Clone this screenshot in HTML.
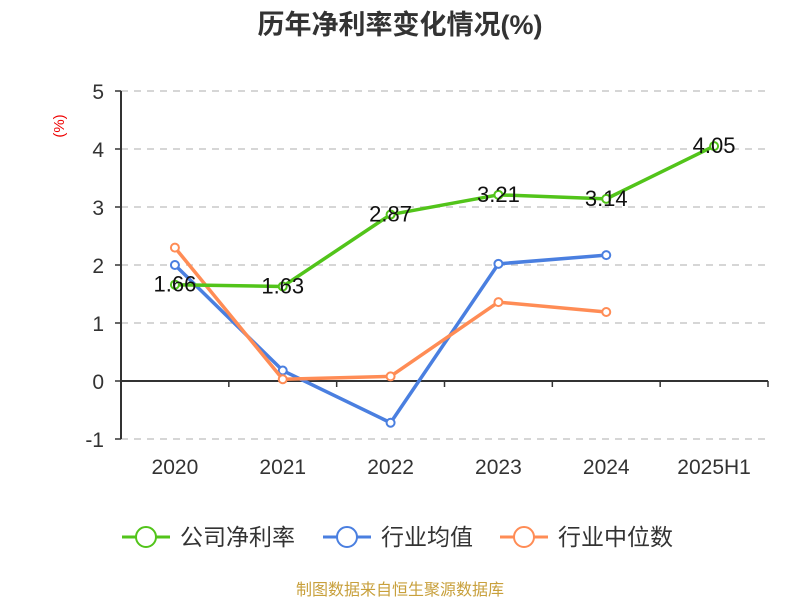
<!DOCTYPE html>
<html><head><meta charset="utf-8"><style>
body{margin:0;background:#fff;}
svg text{font-family:"Liberation Sans","Noto Sans CJK SC",sans-serif;}
</style></head><body>
<svg width="800" height="600" viewBox="0 0 800 600">
<text x="400" y="34" text-anchor="middle" font-size="27" font-weight="bold" fill="#333">历年净利率变化情况(%)</text>
<text x="64" y="126" font-size="15" fill="#e00" transform="rotate(-90 64 126)" text-anchor="middle">(%)</text>
<g id="grid"></g><g id="axes"></g><g id="series"></g>
<g font-size="23" fill="#333">
<g><line x1="122" y1="537" x2="170" y2="537" stroke="#52c41a" stroke-width="3"/><circle cx="146" cy="537" r="10" fill="#fff" stroke="#52c41a" stroke-width="2"/><text x="180" y="545">公司净利率</text></g>
<g><line x1="323" y1="537" x2="371" y2="537" stroke="#4a7fe0" stroke-width="3"/><circle cx="347" cy="537" r="10" fill="#fff" stroke="#4a7fe0" stroke-width="2"/><text x="381" y="545">行业均值</text></g>
<g><line x1="500" y1="537" x2="548" y2="537" stroke="#ff8c55" stroke-width="3"/><circle cx="524" cy="537" r="10" fill="#fff" stroke="#ff8c55" stroke-width="2"/><text x="558" y="545">行业中位数</text></g>
</g>
<text x="400" y="595" text-anchor="middle" font-size="16" fill="#c8a03c">制图数据来自恒生聚源数据库</text>
</svg>
<script>
const categories=["2020","2021","2022","2023","2024","2025H1"];
const companyValues=[1.66,1.63,2.87,3.21,3.14,4.05];
const industryAvg=[2.0,0.18,-0.72,2.02,2.17];
const industryMedian=[2.3,0.03,0.08,1.36,1.19];
const yTicks=[-1,0,1,2,3,4,5];
const NS="http://www.w3.org/2000/svg";
const x0=121,x1=768,bw=(x1-x0)/categories.length;
const xs=i=>x0+bw*(i+0.5);
const ys=v=>381-v*58;
function mk(t,a,p){const e=document.createElementNS(NS,t);for(const k in a)e.setAttribute(k,a[k]);p.appendChild(e);return e;}
const grid=document.getElementById('grid'),axes=document.getElementById('axes'),ser=document.getElementById('series');
yTicks.forEach(v=>{
 if(v!==0){const l=mk('line',{x1:x0,x2:x1,y1:ys(v),y2:ys(v),stroke:'#c8c8c8','stroke-width':1.5,'stroke-dasharray':'7,6'},grid);
 
 }
 const t=mk('text',{x:104,y:ys(v)+8,'text-anchor':'end','font-size':21,fill:'#333'},axes);t.textContent=v;
 
 
 mk('line',{x1:x0-6,x2:x0,y1:ys(v),y2:ys(v),stroke:'#333','stroke-width':1.5},axes);
});
const ya=mk('line',{x1:x0,x2:x0,y1:ys(5),y2:ys(-1),stroke:'#333','stroke-width':2},axes);


const xa=mk('line',{x1:x0,x2:x1,y1:ys(0),y2:ys(0),stroke:'#333','stroke-width':2},axes);


for(let i=0;i<=categories.length;i++)mk('line',{x1:x0+bw*i,x2:x0+bw*i,y1:ys(0),y2:ys(0)+6,stroke:'#333','stroke-width':1.5},axes);
categories.forEach((c,i)=>{const t=mk('text',{x:xs(i),y:474,'text-anchor':'middle','font-size':21,fill:'#333'},axes);t.textContent=c;
 
 });
function line(vals,color,name,labels){
 const g=mk('g',{},ser);
 
 
 mk('polyline',{points:vals.map((v,i)=>xs(i)+','+ys(v)).join(' '),fill:'none',stroke:color,'stroke-width':3.5,'stroke-linejoin':'round'},g);
 vals.forEach((v,i)=>{const c=mk('circle',{cx:xs(i),cy:ys(v),r:4,fill:'#fff',stroke:color,'stroke-width':2},g);
  
  
  if(labels){const t=mk('text',{x:xs(i),y:ys(v)+7,'text-anchor':'middle','font-size':22,fill:'#111'},g);t.textContent=v.toFixed(2);
   
   }});
}
line(industryAvg,'#4a7fe0','industry-avg-line',false);
line(industryMedian,'#ff8c55','industry-median-line',false);
line(companyValues,'#52c41a','company-line',true);
</script>
</body></html>
